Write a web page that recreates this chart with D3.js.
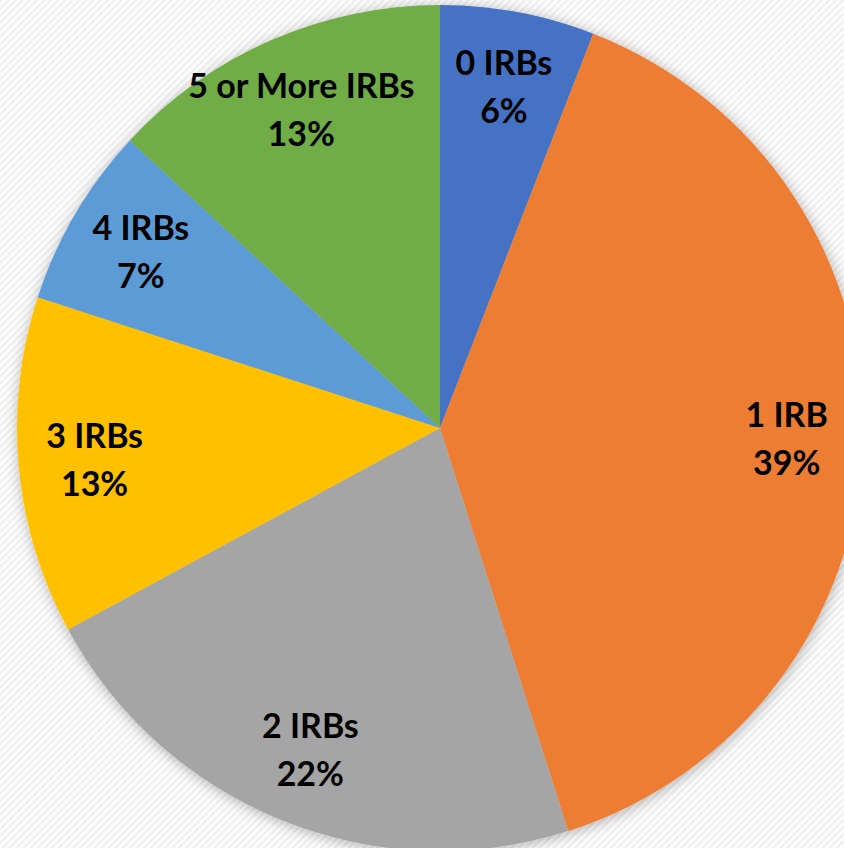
<!DOCTYPE html>
<html>
<head>
  <meta charset="utf-8">
  <script src="https://cdn.jsdelivr.net/npm/d3@7"></script>
  <style>
    body { margin: 0; background: #fff; }
  </style>
</head>
<body>
  <div id="chart"></div>
  <script>
    const categories = ["0 IRBs", "1 IRB", "2 IRBs", "3 IRBs", "4 IRBs", "5 or More IRBs"];
    const values = [5.9, 39.2, 22.0, 12.9, 6.9, 13.1];
    const colors = ["#4472c4", "#ed7d31", "#a5a5a5", "#ffc000", "#5b9bd5", "#70ad47"];

    const w = 844;
    const h = 848;
    const cx = 440, cy = 428; // centre of the pie
    const radius = 423;

    const svg = d3.select("#chart").append("svg")
      .attr("width", w)
      .attr("height", h);

    const defs = svg.append("defs");

    // diagonal stripes in the background
    const pat = defs.append("pattern")
      .attr("id", "stripes")
      .attr("patternUnits", "userSpaceOnUse")
      .attr("width", 5)
      .attr("height", 5)
      .attr("patternTransform", "rotate(45)");
    pat.append("rect").attr("width", 5).attr("height", 5).attr("fill", "#ffffff");
    pat.append("rect").attr("width", 2.5).attr("height", 5).attr("fill", "#efefef");

    // soft shadow round the pie
    const filter = defs.append("filter")
      .attr("id", "shadow")
      .attr("x", "-10%").attr("y", "-10%")
      .attr("width", "120%").attr("height", "120%");
    filter.append("feDropShadow")
      .attr("dx", 1)
      .attr("dy", 2)
      .attr("stdDeviation", 7)
      .attr("flood-color", "#000")
      .attr("flood-opacity", 0.3);

    svg.append("rect")
      .attr("width", w)
      .attr("height", h)
      .attr("fill", "url(#stripes)");

    const data = categories.map((c, i) => ({ name: c, value: values[i], color: colors[i] }));
    const total = d3.sum(values);

    const pie = d3.pie()
      .value(d => d.value)
      .sort(null);

    const arc = d3.arc()
      .innerRadius(0)
      .outerRadius(radius);

    const labelArc = d3.arc()
      .innerRadius(radius * 0.82)
      .outerRadius(radius * 0.82);

    const g = svg.append("g")
      .attr("transform", `translate(${cx},${cy})`);

    const slices = g.append("g").attr("filter", "url(#shadow)");

    slices.selectAll("path")
      .data(pie(data))
      .enter()
      .append("path")
      .attr("d", arc)
      .attr("fill", d => d.data.color);

    // labels: name and percentage on two lines
    const labels = g.selectAll("text")
      .data(pie(data))
      .enter()
      .append("text")
      .attr("transform", function (d) {
        const c = labelArc.centroid(d);
        return `translate(${c[0]},${c[1]})`;
      })
      .attr("text-anchor", "middle")
      .attr("font-family", "Lato, 'Open Sans', sans-serif")
      .attr("font-weight", "bold")
      .attr("font-size", "34px")
      .attr("fill", "#000");

    labels.append("tspan")
      .attr("x", 0)
      .attr("y", -12)
      .text(d => d.data.name);

    labels.append("tspan")
      .attr("x", 0)
      .attr("y", 36)
      .text(d => Math.round(d.data.value / total * 100) + "%");
  </script>
</body>
</html>
